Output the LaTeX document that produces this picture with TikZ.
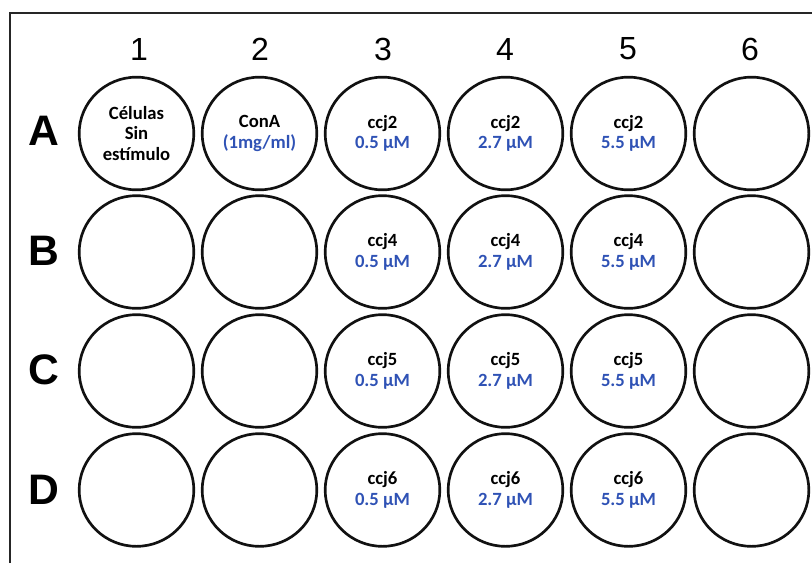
\documentclass[tikz,border=0pt]{standalone}
\usepackage{fontspec}
\setmainfont{Carlito}
\newfontfamily\platefont{Liberation Sans}
\usetikzlibrary{shapes.geometric}
\definecolor{WellBlue}{HTML}{2F52B5}
\definecolor{WellRim}{HTML}{111111}

\begin{document}
\begin{tikzpicture}[
        x=0.75pt,y=-0.75pt,
        well/.style={draw=WellRim,ellipse,line width=2pt,minimum width=86pt,minimum height=84.5pt,inner sep=0pt,align=center,font=\fontsize{14}{15.5}\selectfont\bfseries},
        colnum/.style={font=\platefont\fontsize{24}{26}\selectfont},
        rowtag/.style={font=\platefont\fontsize{32}{34}\selectfont\bfseries},
        frame/.style={line width=2.2pt,draw=black!85}
      ]
        \useasboundingbox (0,0) rectangle (812,563);
        \draw[frame] (10,563) |- (812,13);
        % column and row labels
        \node[colnum] (c1) at (139,49) {1};
        \node[colnum] (c2) at (260,49) {2};
        \node[colnum] (c3) at (383,49) {3};
        \node[colnum] (c4) at (505,49) {4};
        \node[colnum] (c5) at (628,49) {5};
        \node[colnum] (c6) at (750,49) {6};
        \node[rowtag] (rA) at (44,131) {A};
        \node[rowtag] (rB) at (44,251) {B};
        \node[rowtag] (rC) at (44,370) {C};
        \node[rowtag] (rD) at (44,490) {D};
        % row A
        \node[well] (A1) at (136.5,133.5) {Células\\Sin\\estímulo};
        \node[well] (A2) at (259.5,133.5) {ConA\\\textcolor{WellBlue}{(1mg/ml)}};
        \node[well] (A3) at (382.5,133.5) {ccj2\\\textcolor{WellBlue}{0.5 µM}};
        \node[well] (A4) at (505.5,133.5) {ccj2\\\textcolor{WellBlue}{2.7 µM}};
        \node[well] (A5) at (628.5,133.5) {ccj2\\\textcolor{WellBlue}{5.5 µM}};
        \node[well] (A6) at (751.5,133.5) {};
        % row B
        \node[well] (B1) at (136.5,252) {};
        \node[well] (B2) at (259.5,252) {};
        \node[well] (B3) at (382.5,252) {ccj4\\\textcolor{WellBlue}{0.5 µM}};
        \node[well] (B4) at (505.5,252) {ccj4\\\textcolor{WellBlue}{2.7 µM}};
        \node[well] (B5) at (628.5,252) {ccj4\\\textcolor{WellBlue}{5.5 µM}};
        \node[well] (B6) at (751.5,252) {};
        % row C
        \node[well] (C1) at (136.5,371) {};
        \node[well] (C2) at (259.5,371) {};
        \node[well] (C3) at (382.5,371) {ccj5\\\textcolor{WellBlue}{0.5 µM}};
        \node[well] (C4) at (505.5,371) {ccj5\\\textcolor{WellBlue}{2.7 µM}};
        \node[well] (C5) at (628.5,371) {ccj5\\\textcolor{WellBlue}{5.5 µM}};
        \node[well] (C6) at (751.5,371) {};
        % row D
        \node[well] (D1) at (136.5,490) {};
        \node[well] (D2) at (259.5,490) {};
        \node[well] (D3) at (382.5,490) {ccj6\\\textcolor{WellBlue}{0.5 µM}};
        \node[well] (D4) at (505.5,490) {ccj6\\\textcolor{WellBlue}{2.7 µM}};
        \node[well] (D5) at (628.5,490) {ccj6\\\textcolor{WellBlue}{5.5 µM}};
        \node[well] (D6) at (751.5,490) {};
      \end{tikzpicture}
\end{document}
